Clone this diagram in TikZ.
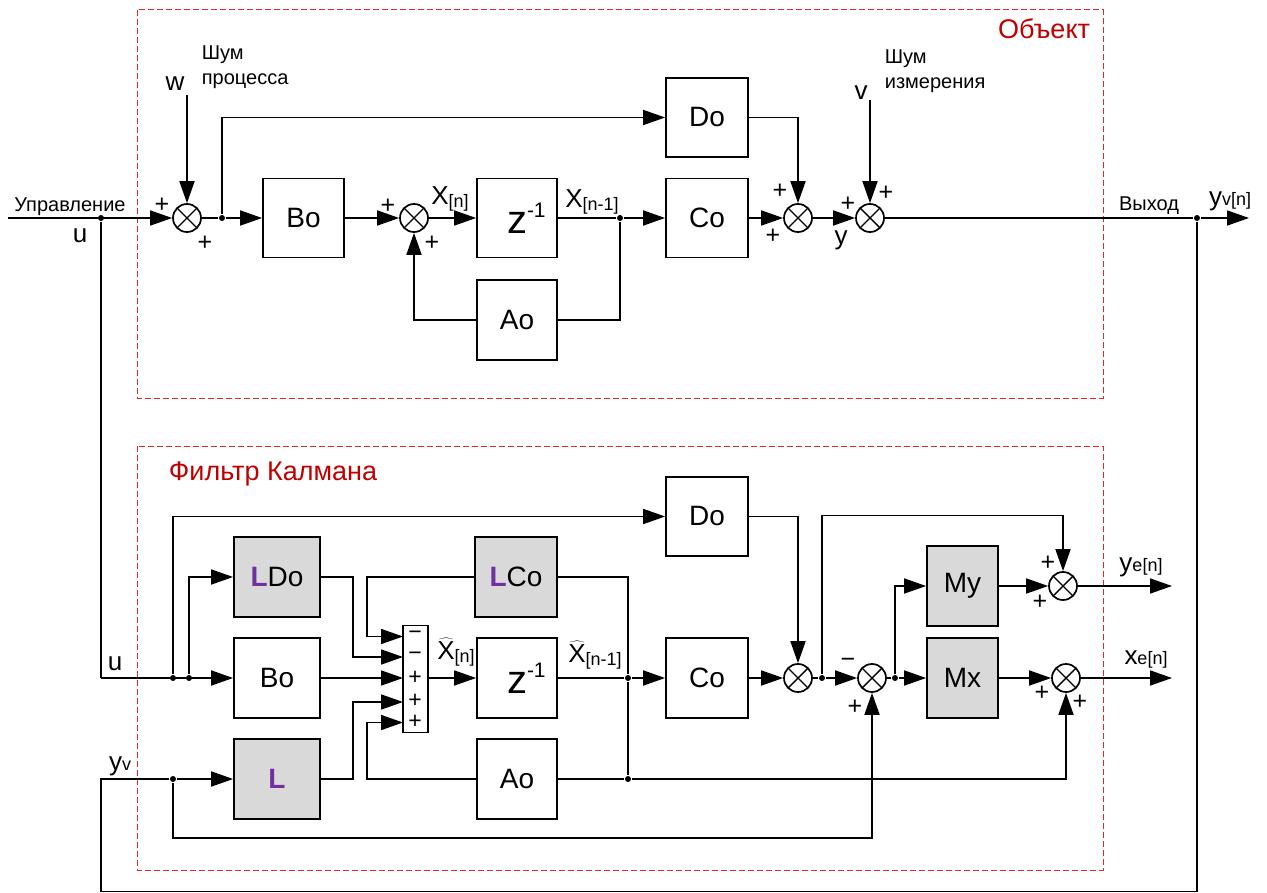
\documentclass[tikz,border=0pt]{standalone}
\usepackage{fontspec}
\setmainfont{Liberation Sans}
\usetikzlibrary{arrows.meta}
\definecolor{objred}{RGB}{192,0,0}
\definecolor{dashred}{RGB}{225,40,40}
\definecolor{lpurple}{RGB}{112,48,160}
\definecolor{boxgray}{RGB}{217,217,217}
\newcommand{\fsz}[2]{\fontsize{#1}{#2}\selectfont}
\newcommand{\Lp}{\textcolor{lpurple}{\textbf{L}}}
\newcommand{\sub}[1]{\raisebox{-3pt}{\fsz{18}{18}#1}}
\newcommand{\hatX}{$\widehat{\mbox{X}}$}
\newcommand{\zinv}{\fsz{40}{40}z\rlap{\raisebox{16pt}{\fsz{21}{21}-1}}}
\begin{document}
\begin{tikzpicture}[x=1pt,y=-1pt,line width=1.7pt,
  box/.style 2 args={draw,inner sep=0pt,minimum width=#1,minimum height=#2,font=\fsz{28}{32}},
  gbox/.style 2 args={box={#1}{#2},fill=boxgray},
  sj/.style={circle,draw,fill=white,minimum size=28pt,inner sep=0pt,
    path picture={\draw[line width=1.4pt] (path picture bounding box.north west)--(path picture bounding box.south east)
      (path picture bounding box.north east)--(path picture bounding box.south west);}},
  sjneg/.style={circle,draw,fill=white,minimum size=28pt,inner sep=0pt,
    path picture={\fill (path picture bounding box.center)--(path picture bounding box.north west)--(path picture bounding box.south west)--cycle;
      \draw[line width=1.4pt] (path picture bounding box.north west)--(path picture bounding box.south east)
      (path picture bounding box.north east)--(path picture bounding box.south west);}},
  arr/.style={-{Triangle[length=22pt,width=15pt]}},
  pl/.style={font=\fsz{25}{25},inner sep=0pt},
  sg/.style={font=\fsz{23}{23},inner sep=0pt},
  lab/.style={font=\fsz{20}{25},inner sep=0pt},
  big/.style={font=\fsz{26}{26},inner sep=0pt},
  dot/.style={circle,fill,inner sep=0pt,minimum size=6pt},
  frame/.style={draw=dashred,line width=1pt,dash pattern=on 6pt off 3pt},
  ttl/.style={font=\fsz{27}{27},text=objred,inner sep=0pt}
]
\useasboundingbox (0,0) rectangle (1267,893);
% frames
\draw[frame] (137,10) rectangle (1103,398);
\draw[frame] (137,446) rectangle (1103,870);
\node[ttl] (tObj) at (1044,29) {Объект};
\node[ttl] (tKal) at (273,474) {Фильтр Калмана};

% ---------- Object ----------
\node[box={81pt}{79pt}] (Bo1) at (303.5,218) {Bo};
\node[box={80pt}{79pt}] (z1) at (517,218) {\zinv};
\node[box={80pt}{80pt}] (Ao1) at (517,320) {Ao};
\node[box={82pt}{79pt}] (Do1) at (707,117.5) {Do};
\node[box={82pt}{79pt}] (Co1) at (707,218) {Co};
\node[sj] (S1) at (187,218) {};
\node[sj] (S2) at (414,218) {};
\node[sj] (S3) at (798,218) {};
\node[sj] (S4) at (870,218) {};
\coordinate (uin) at (8,218);
\coordinate (wtop) at (187,95);
\coordinate (vtop) at (870,100);
\coordinate (yout) at (1249,218);
\node[dot] (dU) at (101,218) {};
\node[dot] (dB) at (222,218) {};
\node[dot] (dX) at (620,218) {};
\node[dot] (dY) at (1197,218) {};

\draw[arr] (uin) -- (S1.west);
\draw[arr] (wtop) -- (S1.north);
\draw (S1.east) -- (dB);
\draw[arr] (dB) -- (Bo1.west);
\draw[arr] (dB) |- (Do1.west);
\draw[arr] (Bo1.east) -- (S2.west);
\draw[arr] (S2.east) -- (z1.west);
\draw (z1.east) -- (dX);
\draw[arr] (dX) -- (Co1.west);
\draw (dX) |- (Ao1.east);
\draw[arr] (Ao1.west) -| (S2.south);
\draw[arr] (Co1.east) -- (S3.west);
\draw[arr] (Do1.east) -| (S3.north);
\draw[arr] (S3.east) -- (S4.west);
\draw[arr] (vtop) -- (S4.north);
\draw (S4.east) -- (dY);
\draw[arr] (dY) -- (yout);

% labels object
\node[lab] (lUpr) at (70,207) {Управление};
\node[big] (lu1) at (80,236) {u};
\node[big] (lw) at (175,84) {w};
\node[lab,align=left,anchor=west] (lwn) at (201,67) {Шум\\процесса};
\node[big] (lv) at (861,93) {v};
\node[lab,align=left,anchor=west] (lvn) at (884,71) {Шум\\измерения};
\node[pl] at (162,205) {+};
\node[pl] at (205,243) {+};
\node[pl] at (388,206) {+};
\node[pl] at (432,243) {+};
\node[big] (lXn) at (450,199) {X\sub{[n]}};
\node[big] (lXn1) at (592,202) {X\sub{[n-1]}};
\node[pl] at (780,191) {+};
\node[pl] at (773,236) {+};
\node[pl] at (848,204) {+};
\node[pl] at (886,193) {+};
\node[big] (ly) at (841,240) {y};
\node[lab] (lout) at (1149,206) {Выход};
\node[big] (lyv) at (1230,201) {y{\fsz{18}{18}v[n]}};

% ---------- Kalman filter ----------
\node[box={82pt}{79pt}] (Do2) at (707,516.5) {Do};
\node[gbox={86pt}{80pt}] (LDo) at (277,577) {\Lp Do};
\node[gbox={82pt}{80pt}] (LCo) at (516,577) {\Lp Co};
\node[box={86pt}{80pt}] (Bo2) at (277,678) {Bo};
\node[gbox={86pt}{80pt}] (L) at (277,779) {\Lp};
\node[draw,inner sep=0pt,minimum width=25pt,minimum height=107pt] (sum) at (415.5,679) {};
\node[box={80pt}{80pt}] (z2) at (517,678) {\zinv};
\node[box={80pt}{80pt}] (Ao2) at (517,779) {Ao};
\node[box={82pt}{80pt}] (Co2) at (707,678) {Co};
\node[gbox={71pt}{80pt}] (My) at (962.5,586) {My};
\node[gbox={71pt}{80pt}] (Mx) at (962.5,678) {Mx};
\node[sj] (Sa) at (798,678) {};
\node[sjneg] (Sb) at (872,678) {};
\node[sj] (Sy) at (1063,586) {};
\node[sj] (Sx) at (1066,678) {};

\coordinate (in1) at (403,636.5);
\coordinate (in2) at (403,657);
\coordinate (in3) at (403,678);
\coordinate (in4) at (403,702);
\coordinate (in5) at (403,722.5);
\coordinate (b1) at (367,636.5);
\coordinate (b2) at (353,657);
\coordinate (b4) at (353,702);
\coordinate (b5) at (367,722.5);
\coordinate (c1) at (1197,891.5);
\coordinate (c2) at (101,891.5);
\coordinate (c3) at (173,838);
\coordinate (c4) at (822,515.5);
\coordinate (yeo) at (1172,586);
\coordinate (xeo) at (1172,678);

\node[dot] (dU2) at (173,678) {};
\node[dot] (dU3) at (189,678) {};
\node[dot] (dYv) at (173,779) {};
\node[dot] (dXh) at (628,678) {};
\node[dot] (dXa) at (628,779) {};
\node[dot] (dYe) at (822,678) {};
\node[dot] (dE) at (895,678) {};

\draw (dU) -- (c2 |- dU2);
\draw[arr] (c2 |- dU2) -- (Bo2.west);
\draw[arr] (dU2) |- (Do2.west);
\draw[arr] (dU3) |- (LDo.west);
\draw (dY) -- (c1) -- (c2) -- (c2 |- dYv) -- (dYv);
\draw[arr] (dYv) -- (L.west);
\draw[arr] (dYv) -- (c3) -| (Sb.south);

\draw[arr] (LCo.west) -| (b1) -- (in1);
\draw[arr] (LDo.east) -| (b2) -- (in2);
\draw[arr] (Bo2.east) -- (in3);
\draw[arr] (L.east) -| (b4) -- (in4);
\draw[arr] (Ao2.west) -| (b5) -- (in5);
\draw[arr] (sum.east |- z2.west) -- (z2.west);
\draw (z2.east) -- (dXh);
\draw[arr] (dXh) -- (Co2.west);
\draw (LCo.east) -| (dXh);
\draw (dXh) -- (dXa);
\draw (Ao2.east) -- (dXa);
\draw[arr] (dXa) -| (Sx.south);
\draw[arr] (Do2.east) -| (Sa.north);
\draw[arr] (Co2.east) -- (Sa.west);
\draw (Sa.east) -- (dYe);
\draw[arr] (dYe) -- (Sb.west);
\draw[arr] (dYe) -- (c4) -| (Sy.north);
\draw (Sb.east) -- (dE);
\draw[arr] (dE) -- (Mx.west);
\draw[arr] (dE) |- (My.west);
\draw[arr] (My.east) -- (Sy.west);
\draw[arr] (Sy.east) -- (yeo);
\draw[arr] (Mx.east) -- (Sx.west);
\draw[arr] (Sx.east) -- (xeo);

% labels filter
\node[big] (lu2) at (115,664) {u};
\node[big] (lyv2) at (120,766) {y{\fsz{18}{18}v}};
\node[sg] at (415,635) {−};
\node[sg] at (415,656) {−};
\node[sg] at (415,678) {+};
\node[sg] at (415,701) {+};
\node[sg] at (415,722) {+};
\node[big] (lXh) at (456,652) {\hatX\sub{[n]}};
\node[big] (lXh1) at (595,655) {\hatX\sub{[n-1]}};
\node[pl] at (848,663) {−};
\node[pl] at (855,707) {+};
\node[pl] at (1048,563) {+};
\node[pl] at (1040,602) {+};
\node[pl] at (1042,693) {+};
\node[pl] at (1080,702) {+};
\node[big] (lye) at (1141,567) {y{\fsz{18}{18}e[n]}};
\node[big] (lxe) at (1146,659) {x{\fsz{18}{18}e[n]}};
\end{tikzpicture}
\end{document}
